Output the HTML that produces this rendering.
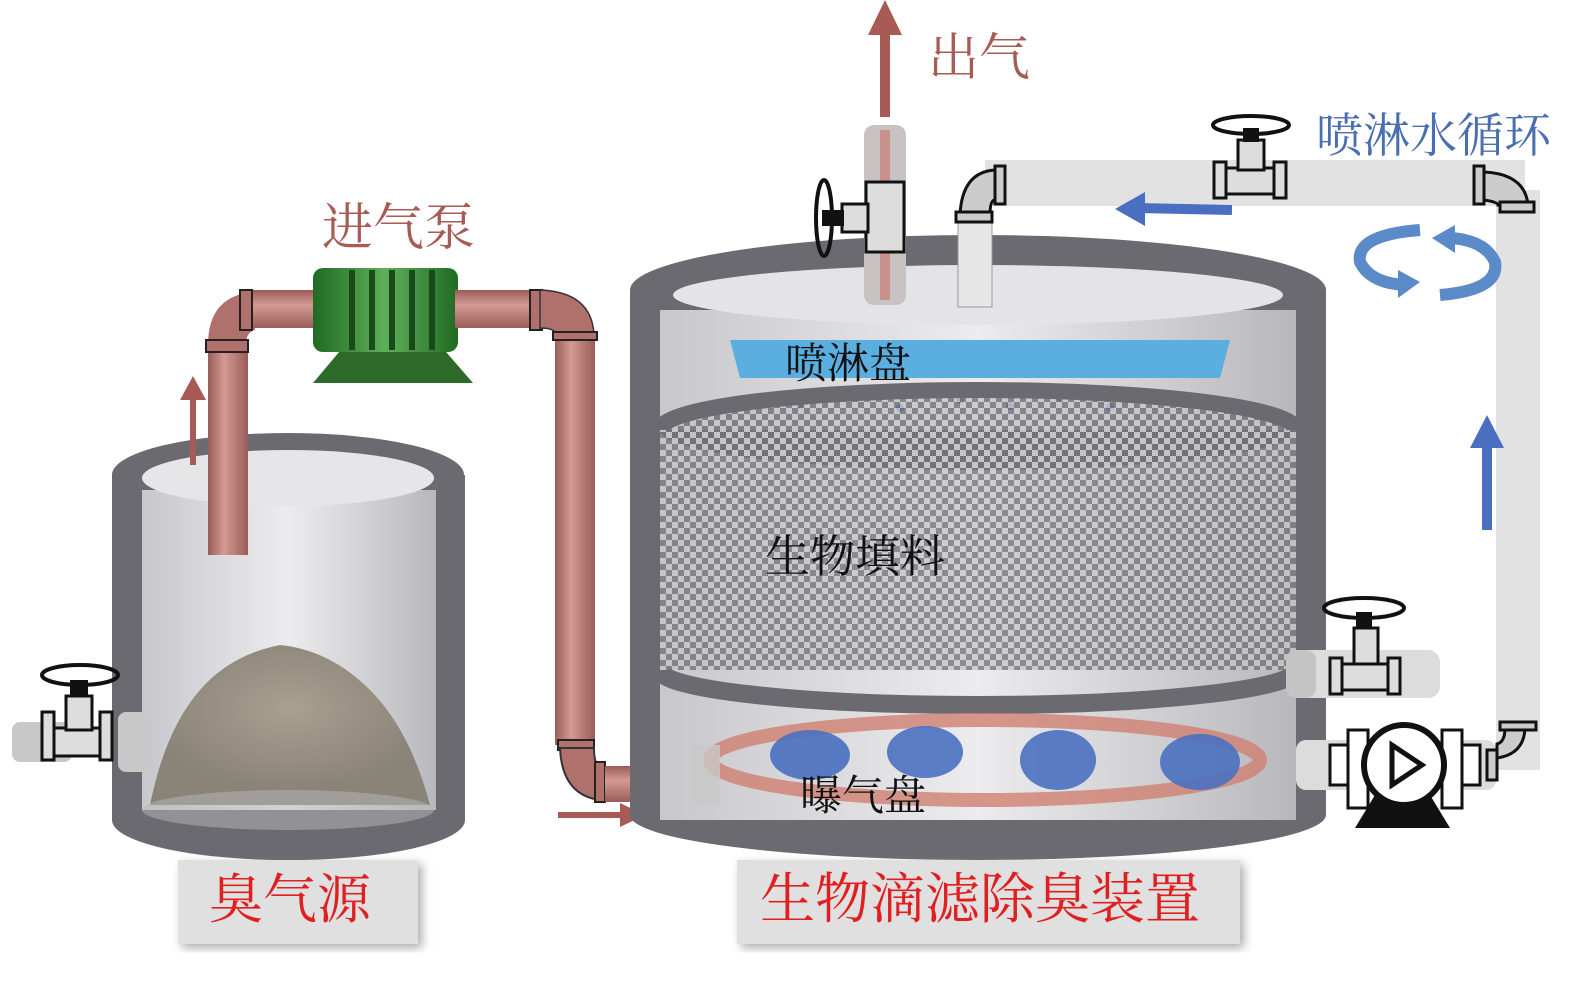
<!DOCTYPE html>
<html><head><meta charset="utf-8"><style>
html,body{margin:0;padding:0;background:#fff;}
svg{display:block}
text{font-family:"Liberation Serif","Noto Serif CJK SC","Noto Sans CJK SC",serif;}
</style></head><body>
<svg width="1575" height="991" viewBox="0 0 1575 991" xmlns="http://www.w3.org/2000/svg">
<defs>
<linearGradient id="inner" x1="0" x2="1"><stop offset="0" stop-color="#c8c8cc"/><stop offset="0.5" stop-color="#ececee"/><stop offset="1" stop-color="#b8b8bc"/></linearGradient>
<linearGradient id="pipeV" x1="0" x2="1"><stop offset="0" stop-color="#9a5c58"/><stop offset="0.4" stop-color="#d49a94"/><stop offset="1" stop-color="#9a5c58"/></linearGradient>
<linearGradient id="pipeH" x1="0" y1="0" x2="0" y2="1"><stop offset="0" stop-color="#9a5c58"/><stop offset="0.4" stop-color="#d49a94"/><stop offset="1" stop-color="#9a5c58"/></linearGradient>
<linearGradient id="green" x1="0" x2="1"><stop offset="0" stop-color="#1f6b22"/><stop offset="0.5" stop-color="#5fb05a"/><stop offset="1" stop-color="#1f6b22"/></linearGradient>
<pattern id="chk" width="12" height="12" patternUnits="userSpaceOnUse"><rect width="12" height="12" fill="#c4c4c8"/><rect width="6" height="6" fill="#6c6c72"/><rect x="6" y="6" width="6" height="6" fill="#6c6c72"/></pattern>
<radialGradient id="pile" cx="0.5" cy="0.4"><stop offset="0" stop-color="#a8a090"/><stop offset="1" stop-color="#8a8478"/></radialGradient>
<filter id="sh"><feDropShadow dx="4" dy="4" stdDeviation="5" flood-color="#888" flood-opacity="0.7"/></filter>
</defs>

<!-- LEFT TANK -->
<path d="M112 475 L112 820 A176 40 0 0 0 465 820 L465 475 Z" fill="#6a6a70"/>
<ellipse cx="288" cy="475" rx="176" ry="42" fill="#6a6a70"/>
<rect x="142" y="490" width="294" height="320" fill="url(#inner)"/>
<ellipse cx="288" cy="478" rx="146" ry="28" fill="#e6e6e8"/>
<path d="M150 805 Q165 730 200 690 Q230 655 280 645 Q330 650 370 690 Q410 730 430 805 Z" fill="url(#pile)"/>
<ellipse cx="288" cy="810" rx="146" ry="20" fill="#b8b8bc" opacity="0.5"/>
<!-- left valve -->
<rect x="12" y="722" width="60" height="40" rx="8" fill="#c8c8c8"/>
<rect x="118" y="712" width="34" height="60" rx="8" fill="#c8c8c8"/>
<rect x="42" y="712" width="12" height="48" fill="#ddd" stroke="#111" stroke-width="3"/>
<rect x="100" y="712" width="12" height="48" fill="#ddd" stroke="#111" stroke-width="3"/>
<rect x="54" y="728" width="46" height="28" fill="#ddd" stroke="#111" stroke-width="3"/>
<rect x="66" y="696" width="26" height="34" fill="#ddd" stroke="#111" stroke-width="3"/>
<ellipse cx="80" cy="675" rx="38" ry="10" fill="none" stroke="#111" stroke-width="4"/>
<rect x="70" y="680" width="18" height="16" fill="#111"/>

<!-- pipe from left tank to pump -->
<rect x="208" y="345" width="40" height="210" fill="url(#pipeV)"/>
<path d="M208 345 Q208 295 255 292 L255 330 Q246 332 246 345 Z" fill="#b0706c"/>
<rect x="250" y="290" width="70" height="38" fill="url(#pipeH)"/>
<rect x="240" y="290" width="12" height="40" fill="#b0706c" stroke="#222" stroke-width="2"/>
<rect x="206" y="340" width="42" height="12" fill="#b0706c" stroke="#222" stroke-width="2"/>
<line x1="193" y1="465" x2="193" y2="395" stroke="#a85a55" stroke-width="6"/>
<polygon points="180,400 206,400 193,376" fill="#a85a55"/>
<!-- pump -->
<polygon points="313,383 473,383 440,345 345,345" fill="#2d6a2a"/>
<rect x="313" y="268" width="145" height="84" rx="10" fill="url(#green)"/>
<g stroke="#1a4a1a" stroke-width="6"><line x1="352" y1="270" x2="352" y2="350"/><line x1="372" y1="270" x2="372" y2="350"/><line x1="392" y1="270" x2="392" y2="350"/><line x1="412" y1="270" x2="412" y2="350"/><line x1="432" y1="270" x2="432" y2="350"/></g>
<rect x="455" y="290" width="80" height="38" fill="url(#pipeH)"/>
<rect x="530" y="290" width="12" height="40" fill="#b0706c" stroke="#222" stroke-width="2"/>
<path d="M540 290 Q592 292 594 335 L556 335 Q556 328 540 328 Z" fill="#b0706c" stroke="#333" stroke-width="1.5"/>
<rect x="555" y="335" width="40" height="410" fill="url(#pipeV)"/>
<rect x="553" y="332" width="44" height="8" fill="#b0706c" stroke="#222" stroke-width="2"/>
<rect x="558" y="740" width="36" height="10" fill="#b0706c" stroke="#222" stroke-width="2"/>
<path d="M560 748 Q562 795 600 800 L600 765 Q594 765 594 748 Z" fill="#b0706c" stroke="#333" stroke-width="2"/>
<rect x="595" y="762" width="10" height="40" fill="#b0706c" stroke="#222" stroke-width="2"/>
<rect x="605" y="766" width="58" height="36" fill="url(#pipeH)"/>
<line x1="558" y1="815" x2="625" y2="815" stroke="#a85a55" stroke-width="6"/>
<polygon points="620,803 620,827 645,815" fill="#a85a55"/>
<text x="322" y="245" font-size="51" fill="#a85a55">进气泵</text>

<!-- BIG TANK -->
<path d="M630 290 L630 815 A348 45 0 0 0 1326 815 L1326 290 Z" fill="#6a6a70"/>
<ellipse cx="978" cy="290" rx="348" ry="55" fill="#6a6a70"/>
<rect x="660" y="310" width="636" height="510" fill="url(#inner)"/>
<ellipse cx="978" cy="295" rx="305" ry="30" fill="#e4e4e6"/>
<!-- spray plate -->
<path d="M730 340 L1230 340 L1220 378 L740 378 Z" fill="#5aaee0"/>
<g fill="#5a7fd0"><circle cx="760" cy="400" r="4"/><circle cx="800" cy="405" r="4"/><circle cx="850" cy="398" r="4"/><circle cx="900" cy="408" r="4"/><circle cx="960" cy="400" r="4"/><circle cx="1010" cy="406" r="4"/><circle cx="1060" cy="398" r="4"/><circle cx="1110" cy="407" r="4"/><circle cx="1160" cy="400" r="4"/><circle cx="1210" cy="405" r="4"/></g>
<!-- packing -->
<rect x="660" y="430" width="636" height="240" fill="url(#chk)" opacity="0.75"/>
<ellipse cx="978" cy="430" rx="318" ry="40" fill="url(#chk)" opacity="0.8"/>
<path d="M660 430 A318 40 0 0 1 1296 430" fill="none" stroke="#6a6a70" stroke-width="16"/>
<path d="M660 670 A318 35 0 0 0 1296 670" fill="none" stroke="#6a6a70" stroke-width="18"/>
<!-- aeration -->
<ellipse cx="985" cy="760" rx="275" ry="40" fill="none" stroke="#d08070" stroke-width="14" opacity="0.8"/>
<g fill="#4a70c0" opacity="0.9"><ellipse cx="810" cy="755" rx="40" ry="25"/><ellipse cx="925" cy="752" rx="38" ry="26"/><ellipse cx="1058" cy="760" rx="38" ry="30"/><ellipse cx="1200" cy="762" rx="40" ry="28"/></g>
<rect x="692" y="745" width="28" height="60" fill="#c8c8c8" opacity="0.8"/>
<text x="785" y="378" font-size="42" fill="#111">喷淋盘</text>
<text x="765" y="572" font-size="45" fill="#111">生物填料</text>
<text x="800" y="810" font-size="42" fill="#111">曝气盘</text>

<!-- outlet -->
<rect x="864" y="125" width="42" height="180" rx="10" fill="#c9c2c2"/>
<rect x="880" y="130" width="10" height="170" fill="#c9908c"/>
<line x1="885" y1="117" x2="885" y2="30" stroke="#a85a55" stroke-width="10"/>
<polygon points="868,35 902,35 885,0" fill="#a85a55"/>
<text x="928" y="75" font-size="51" fill="#a85a55">出气</text>
<rect x="866" y="182" width="38" height="70" fill="#ddd" stroke="#111" stroke-width="3"/>
<rect x="842" y="204" width="26" height="28" fill="#ddd" stroke="#111" stroke-width="3"/>
<ellipse cx="824" cy="218" rx="8" ry="38" fill="none" stroke="#111" stroke-width="4"/>
<rect x="822" y="210" width="22" height="16" fill="#111"/>

<!-- recirculation pipe -->
<rect x="985" y="160" width="540" height="46" fill="#e2e2e2"/>
<rect x="1496" y="190" width="44" height="580" fill="#e2e2e2"/>
<rect x="958" y="215" width="34" height="92" fill="#e6e6e6" stroke="#999" stroke-width="1"/>
<path d="M960 215 Q962 172 995 170 L995 200 Q990 200 990 215 Z" fill="#ccc" stroke="#111" stroke-width="3"/>
<rect x="995" y="166" width="10" height="38" fill="#ccc" stroke="#111" stroke-width="3"/>
<rect x="956" y="212" width="36" height="10" fill="#ccc" stroke="#111" stroke-width="3"/>
<rect x="1474" y="166" width="10" height="38" fill="#ccc" stroke="#111" stroke-width="3"/>
<path d="M1484 172 Q1525 174 1528 205 L1498 205 Q1498 202 1484 200 Z" fill="#ccc" stroke="#111" stroke-width="3"/>
<rect x="1500" y="202" width="34" height="10" fill="#ccc" stroke="#111" stroke-width="3"/>
<!-- top valve -->
<rect x="1214" y="162" width="12" height="36" fill="#ddd" stroke="#111" stroke-width="3"/>
<rect x="1274" y="162" width="12" height="36" fill="#ddd" stroke="#111" stroke-width="3"/>
<rect x="1226" y="168" width="48" height="26" fill="#ddd" stroke="#111" stroke-width="3"/>
<rect x="1238" y="140" width="26" height="30" fill="#ddd" stroke="#111" stroke-width="3"/>
<ellipse cx="1251" cy="125" rx="38" ry="9" fill="none" stroke="#111" stroke-width="4"/>
<rect x="1243" y="128" width="16" height="14" fill="#111"/>
<text x="1316" y="152" font-size="47" fill="#4a6fb0">喷淋水循环</text>
<line x1="1232" y1="210" x2="1140" y2="208" stroke="#4a6fc0" stroke-width="10"/>
<polygon points="1145,192 1145,226 1115,209" fill="#4a6fc0"/>
<line x1="1487" y1="530" x2="1487" y2="440" stroke="#4a6fc0" stroke-width="10"/>
<polygon points="1470,448 1504,448 1487,415" fill="#4a6fc0"/>
<!-- rotate arrows -->
<path d="M1420 230 Q1355 235 1360 262 Q1370 283 1405 285" fill="none" stroke="#5a8ac8" stroke-width="12"/>
<polygon points="1398,270 1398,298 1420,282" fill="#5a8ac8"/>
<path d="M1440 295 Q1500 290 1495 262 Q1485 240 1450 238" fill="none" stroke="#5a8ac8" stroke-width="12"/>
<polygon points="1455,225 1455,253 1432,238" fill="#5a8ac8"/>
<!-- right valve -->
<rect x="1290" y="650" width="150" height="48" rx="12" fill="#dcdcdc"/>
<rect x="1286" y="650" width="30" height="48" rx="10" fill="#c4c4c4"/>
<rect x="1330" y="658" width="12" height="36" fill="#ddd" stroke="#111" stroke-width="3"/>
<rect x="1388" y="658" width="12" height="36" fill="#ddd" stroke="#111" stroke-width="3"/>
<rect x="1342" y="664" width="46" height="26" fill="#ddd" stroke="#111" stroke-width="3"/>
<rect x="1354" y="628" width="24" height="36" fill="#ddd" stroke="#111" stroke-width="3"/>
<ellipse cx="1364" cy="608" rx="40" ry="10" fill="none" stroke="#111" stroke-width="4"/>
<rect x="1356" y="612" width="16" height="16" fill="#111"/>
<!-- pump right -->
<rect x="1296" y="740" width="200" height="50" rx="10" fill="#dcdcdc"/>
<polygon points="1355,828 1450,828 1430,795 1375,795" fill="#111"/>
<rect x="1330" y="745" width="20" height="40" fill="#fff" stroke="#111" stroke-width="3"/>
<rect x="1348" y="730" width="20" height="78" fill="#fff" stroke="#111" stroke-width="3"/>
<rect x="1460" y="745" width="20" height="40" fill="#fff" stroke="#111" stroke-width="3"/>
<rect x="1442" y="730" width="20" height="78" fill="#fff" stroke="#111" stroke-width="3"/>
<circle cx="1404" cy="765" r="40" fill="#fff" stroke="#111" stroke-width="6"/>
<polygon points="1392,745 1392,785 1422,765" fill="#fff" stroke="#111" stroke-width="5"/>
<rect x="1487" y="750" width="10" height="30" fill="#ccc" stroke="#111" stroke-width="3"/>
<path d="M1497 758 Q1524 754 1525 728 L1505 728 Q1505 742 1497 744 Z" fill="#ccc" stroke="#111" stroke-width="3"/>
<rect x="1500" y="722" width="36" height="8" fill="#ccc" stroke="#111" stroke-width="3"/>

<!-- labels -->
<rect x="178" y="860" width="240" height="84" fill="#e0e0e0" filter="url(#sh)"/>
<text x="290" y="918" font-size="54" fill="#e02020" text-anchor="middle">臭气源</text>
<rect x="737" y="860" width="503" height="84" fill="#e0e0e0" filter="url(#sh)"/>
<text x="980" y="918" font-size="55" fill="#e02020" text-anchor="middle">生物滴滤除臭装置</text>
</svg>
</body></html>
